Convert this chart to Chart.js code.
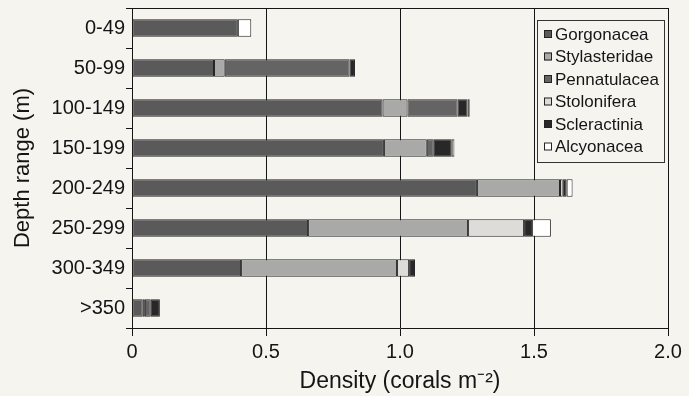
<!DOCTYPE html>
<html>
<head>
<meta charset="utf-8">
<script src="https://cdn.jsdelivr.net/npm/chart.js@4.4.0/dist/chart.umd.min.js"></script>
<style>
  html, body { margin: 0; padding: 0; background: #f6f4ef; }
  #wrap { width: 689px; height: 396px; }
</style>
</head>
<body>
<div id="wrap"><canvas id="coralChart" width="689" height="396"></canvas></div>
<script>
// Depth bands and coral densities (corals per m2)
const depthRanges = ['0-49', '50-99', '100-149', '150-199', '200-249', '250-299', '300-349', '>350'];
const gorgonacea    = [0.395, 0.306, 0.935, 0.94, 1.287, 0.657, 0.407, 0.04];
const stylasteridae = [0, 0.04, 0.093, 0.16, 0.31, 0.597, 0.582, 0.008];
const pennatulacea  = [0, 0.466, 0.187, 0.026, 0, 0, 0, 0.022];
const stolonifera   = [0, 0, 0, 0, 0.01, 0.209, 0.045, 0];
const scleractinia  = [0, 0.02, 0.037, 0.067, 0.015, 0.03, 0.022, 0.034];
const alcyonacea    = [0.05, 0, 0.008, 0.01, 0.022, 0.07, 0, 0];
const xTicks = [0, 0.5, 1.0, 1.5, 2.0];

const FONT = '"Liberation Sans", Arial, Helvetica, sans-serif';
const INK = '#151515';

const series = [
    { label: 'Gorgonacea',    data: gorgonacea,    color: '#5a5a5a' },
    { label: 'Stylasteridae', data: stylasteridae, color: '#a9aaa7' },
    { label: 'Pennatulacea',  data: pennatulacea,  color: '#646464' },
    { label: 'Stolonifera',   data: stolonifera,   color: '#dddcd8' },
    { label: 'Scleractinia',  data: scleractinia,  color: '#282828' },
    { label: 'Alcyonacea',    data: alcyonacea,    color: '#ffffff' }
];

// top frame line + legend box inside the plot
const frameAndLegend = {
    id: 'frameAndLegend',
    beforeDraw(chart) {
        const c = chart.ctx;
        c.save();
        c.fillStyle = '#f6f4ef';
        c.fillRect(0, 0, chart.width, chart.height);
        c.restore();
    },
    afterDraw(chart) {
        const c = chart.ctx;
        const a = chart.chartArea;
        c.save();
        c.strokeStyle = INK;
        c.lineWidth = 1;
        c.beginPath();
        c.moveTo(a.left, a.top + 0.5);
        c.lineTo(a.right, a.top + 0.5);
        c.stroke();

        // legend
        const bx = 537, by = 20, bw = 127, bh = 142;
        c.fillStyle = '#f6f4ef';
        c.fillRect(bx, by, bw, bh);
        c.strokeStyle = '#333';
        c.strokeRect(bx + 0.5, by + 0.5, bw, bh);
        c.font = '17px ' + FONT;
        c.textBaseline = 'middle';
        chart.data.datasets.forEach((ds, i) => {
            const y = by + 14 + i * 22.5;
            c.fillStyle = ds.backgroundColor;
            c.fillRect(bx + 7, y - 4, 8, 8);
            c.strokeStyle = '#222';
            c.strokeRect(bx + 7.5, y - 3.5, 7, 7);
            c.fillStyle = INK;
            c.fillText(ds.label, bx + 18, y + 1);
        });
        c.restore();
    }
};

new Chart(document.getElementById('coralChart'), {
    type: 'bar',
    data: {
        labels: depthRanges,
        datasets: series.map(s => ({
            label: s.label,
            data: s.data,
            backgroundColor: s.color,
            borderColor: '#262626',
            borderWidth: ctx => (ctx.raw > 0 ? 1 : 0),
            borderSkipped: false,
            barPercentage: 0.8,
            categoryPercentage: 0.54
        }))
    },
    options: {
        indexAxis: 'y',
        responsive: false,
        animation: false,
        layout: { padding: { top: 8, right: 21, left: 0, bottom: 0 } },
        plugins: {
            legend: { display: false },
            tooltip: { enabled: false }
        },
        scales: {
            x: {
                stacked: true,
                min: 0,
                max: 2,
                afterBuildTicks: axis => { axis.ticks = xTicks.map(v => ({ value: v })); },
                afterFit: axis => { axis.height = 68; },
                border: { color: INK, width: 1 },
                grid: { color: INK, lineWidth: 1, tickLength: 8, drawOnChartArea: true },
                ticks: {
                    color: INK,
                    font: { family: FONT, size: 20 },
                    padding: 4,
                    maxRotation: 0,
                    callback: v => (v === 0 ? '0' : v.toFixed(1))
                },
                title: {
                    display: true,
                    text: 'Density (corals m\u207B\u00B2)',
                    color: INK,
                    font: { family: FONT, size: 23 },
                    padding: { top: 0, bottom: 1 }
                }
            },
            y: {
                stacked: true,
                afterFit: axis => {
                    axis.width = 132;
                    axis.paddingTop = 0;
                    axis.paddingBottom = 0;
                },
                border: { color: INK, width: 1 },
                grid: { offset: true, color: INK, tickLength: 6, drawOnChartArea: false },
                ticks: {
                    color: INK,
                    font: { family: FONT, size: 20 },
                    padding: 1
                },
                title: {
                    display: true,
                    text: 'Depth range (m)',
                    color: INK,
                    font: { family: FONT, size: 22 },
                    padding: { top: 10, bottom: 0 }
                }
            }
        }
    },
    plugins: [frameAndLegend]
});
</script>
</body>
</html>
